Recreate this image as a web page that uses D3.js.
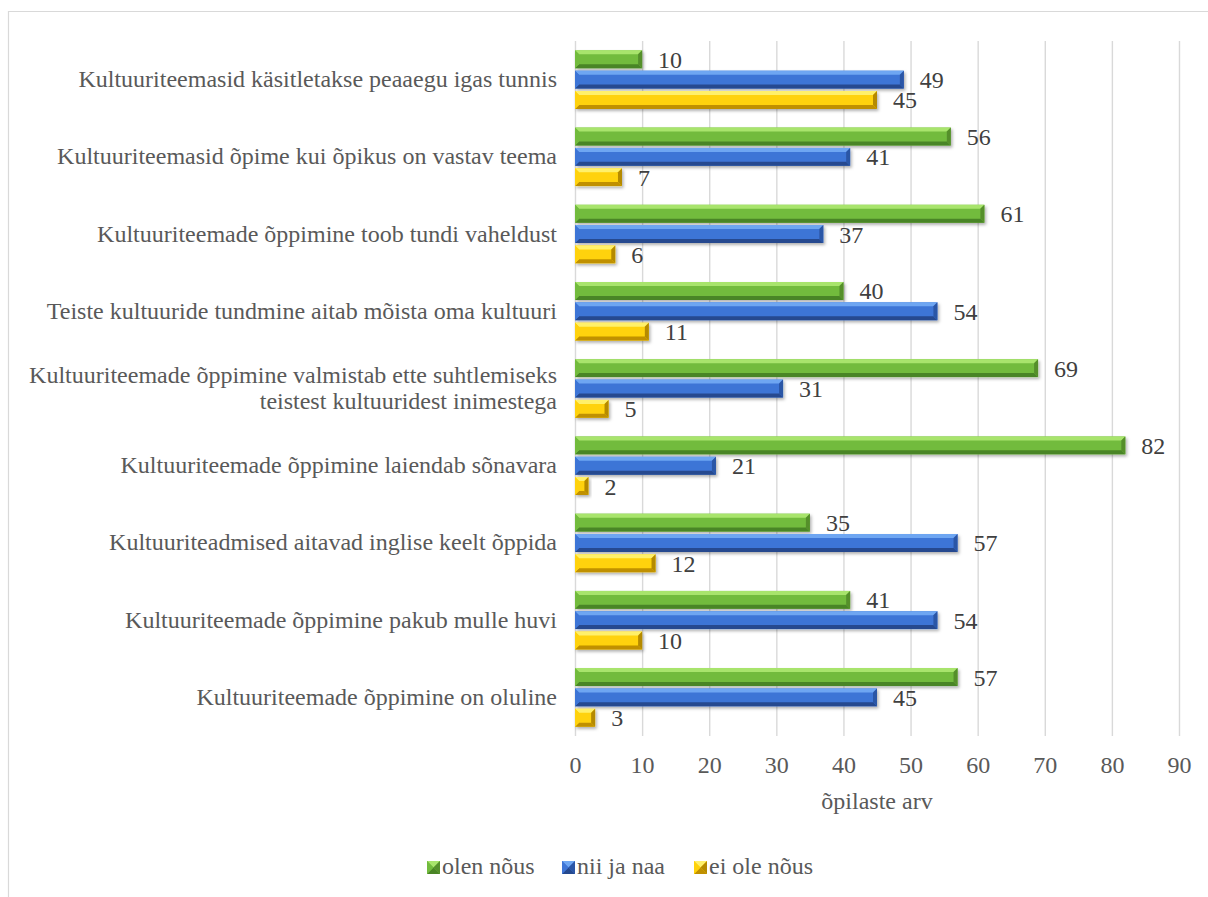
<!DOCTYPE html>
<html>
<head>
<meta charset="utf-8">
<script src="https://cdn.jsdelivr.net/npm/d3@7"></script>
<style>
  html, body { margin: 0; padding: 0; background: #fff; }
  svg { display: block; }
</style>
</head>
<body>
<svg id="chart" width="1208" height="897" font-family="'Liberation Serif', 'Times New Roman', serif"></svg>
<script>
// Survey statements (top to bottom) and answer counts per series
const categories = [
  "Kultuuriteemasid käsitletakse peaaegu igas tunnis",
  "Kultuuriteemasid õpime kui õpikus on vastav teema",
  "Kultuuriteemade õppimine toob tundi vaheldust",
  "Teiste kultuuride tundmine aitab mõista oma kultuuri",
  "Kultuuriteemade õppimine valmistab ette suhtlemiseks teistest kultuuridest inimestega",
  "Kultuuriteemade õppimine laiendab sõnavara",
  "Kultuuriteadmised aitavad inglise keelt õppida",
  "Kultuuriteemade õppimine pakub mulle huvi",
  "Kultuuriteemade õppimine on oluline"
];
const seriesNames = ["olen nõus", "nii ja naa", "ei ole nõus"];
const olenNous   = [10, 56, 61, 40, 69, 82, 35, 41, 57];
const niiJaNaa   = [49, 41, 37, 54, 31, 21, 57, 54, 45];
const eiOleNous  = [45, 7, 6, 11, 5, 2, 12, 10, 3];
const xTicks = [0, 10, 20, 30, 40, 50, 60, 70, 80, 90];
const xTitle = "õpilaste arv";

const seriesValues = [olenNous, niiJaNaa, eiOleNous];
const palette = [
  { light: "#a8e46c", face: "#72bb3e", dark: "#4a8526", side: "#558f2c" },
  { light: "#6ea6f2", face: "#3e75d6", dark: "#25498f", side: "#2c56a6" },
  { light: "#fff06a", face: "#ffd20a", dark: "#c09000", side: "#b58a00" }
];
const FONT = "'Liberation Serif', 'Times New Roman', serif";
const FS = 24;

const svg = d3.select("#chart");
const plot = { left: 575, right: 1179, top: 41, bottom: 736 };

// outer frame
svg.append("path")
  .attr("d", `M8.5,897 V11.5 H1208`)
  .attr("fill", "none").attr("stroke", "#d9d9d9").attr("stroke-width", 1.2);

const defs = svg.append("defs");
const shadow = defs.append("filter").attr("id", "shadow")
  .attr("x", "-10%").attr("y", "-40%").attr("width", "130%").attr("height", "200%");
shadow.append("feDropShadow").attr("dx", 1.5).attr("dy", 2).attr("stdDeviation", 1.4)
  .attr("flood-color", "#000").attr("flood-opacity", 0.3);

const x = d3.scaleLinear().domain([0, 90]).range([plot.left, plot.right]);
const y0 = d3.scaleBand().domain(categories).range([plot.top, plot.bottom])
  .paddingInner(0.242).paddingOuter(0.121);
const y1 = d3.scaleBand().domain(seriesNames).range([0, y0.bandwidth()]).paddingInner(0.12);

// vertical gridlines
svg.append("g")
  .attr("transform", `translate(0,${plot.bottom})`)
  .call(d3.axisBottom(x).tickValues(xTicks).tickSize(-(plot.bottom - plot.top)).tickFormat(""))
  .call(g => g.select(".domain").remove())
  .call(g => g.selectAll("line").attr("stroke", "#d9d9d9").attr("stroke-width", 1.4));

// tick labels
svg.append("g")
  .attr("transform", `translate(0,${plot.bottom})`)
  .call(d3.axisBottom(x).tickValues(xTicks).tickSize(0).tickPadding(0))
  .call(g => g.select(".domain").remove())
  .call(g => g.attr("font-family", FONT).attr("font-size", FS))
  .call(g => g.selectAll("text").attr("fill", "#595959").attr("y", 37).attr("dy", null));

svg.append("text")
  .attr("x", (plot.left + plot.right) / 2).attr("y", 809)
  .attr("text-anchor", "middle").attr("font-size", FS).attr("fill", "#595959")
  .text(xTitle);

// bevelled bar
function bevelBar(g, x0, yTop, w, h, c, b) {
  const x1 = x0 + w, yb = yTop + h;
  const bb = Math.min(b, w / 2, h / 2);
  const grp = g.append("g").attr("filter", "url(#shadow)");
  grp.append("rect").attr("x", x0).attr("y", yTop).attr("width", w).attr("height", h).attr("fill", c.face);
  const poly = (pts, fill) => grp.append("polygon")
    .attr("points", pts.map(p => p.join(",")).join(" ")).attr("fill", fill);
  poly([[x0, yTop], [x1, yTop], [x1 - bb, yTop + bb], [x0 + bb, yTop + bb]], c.light);
  poly([[x0, yb], [x1, yb], [x1 - bb, yb - bb], [x0 + bb, yb - bb]], c.dark);
  poly([[x0, yTop], [x0 + bb, yTop + bb], [x0 + bb, yb - bb], [x0, yb]], c.face);
  poly([[x1, yTop], [x1 - bb, yTop + bb], [x1 - bb, yb - bb], [x1, yb]], c.side);
  return grp;
}

const bars = svg.append("g");
categories.forEach((cat, i) => {
  seriesNames.forEach((s, j) => {
    const v = seriesValues[j][i];
    const yy = y0(cat) + y1(s);
    const h = y1.bandwidth();
    bevelBar(bars, x(0), yy, x(v) - x(0), h, palette[j], 4);
    svg.append("text")
      .attr("x", x(v) + 16).attr("y", yy + h / 2 + 8.5)
      .attr("font-size", FS).attr("fill", "#404040")
      .text(v);
  });
});

// category labels, wrapped when too wide
const labelG = svg.append("g").attr("font-size", FS);
categories.forEach(cat => {
  const cy = y0(cat) + y0.bandwidth() / 2;
  const t = labelG.append("text").attr("text-anchor", "end").attr("fill", "#595959");
  const words = cat.split(" ");
  const lines = [];
  let line = [];
  const probe = labelG.append("text");
  words.forEach(wd => {
    const trial = line.concat(wd).join(" ");
    probe.text(trial);
    if (probe.node().getComputedTextLength() > 560 && line.length) {
      lines.push(line.join(" "));
      line = [wd];
    } else line.push(wd);
  });
  lines.push(line.join(" "));
  probe.remove();
  const lh = 25.5;
  lines.forEach((ln, k) => {
    t.append("tspan").attr("x", 557)
      .attr("y", cy + 7.5 + (k - (lines.length - 1) / 2) * lh)
      .text(ln);
  });
});

// legend
const legendItems = [{ x: 427, t: 442 }, { x: 562, t: 577 }, { x: 694, t: 709 }];
seriesNames.forEach((s, j) => {
  bevelBar(svg, legendItems[j].x, 861, 13, 13, palette[j], 6.5).attr("filter", null);
  svg.append("text").attr("x", legendItems[j].t).attr("y", 874)
    .attr("font-size", FS).attr("fill", "#595959").text(s);
});
</script>
</body>
</html>
